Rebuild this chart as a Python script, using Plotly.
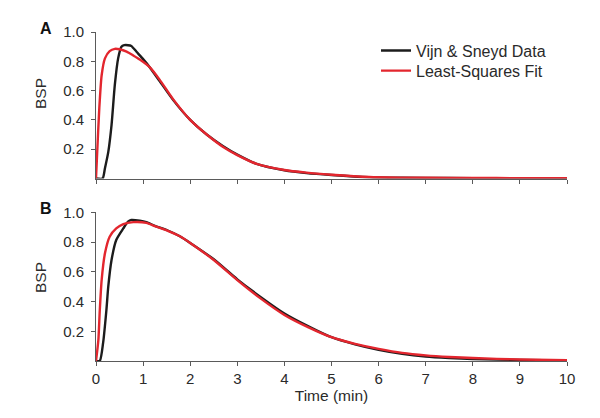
import plotly.graph_objects as go

# ---- Data ----
# Panel A
a_data_t = [0, 0.14, 0.19, 0.26, 0.33, 0.40, 0.47, 0.54, 0.60, 0.68, 0.75, 0.86, 1.0, 1.14,
            1.35, 1.64, 2.0, 2.35, 2.7, 3.0, 3.41, 4.0, 4.47, 5.0, 5.8, 6.5, 7.5, 8.5, 10]
a_data_y = [0, 0, 0.07, 0.18, 0.365, 0.64, 0.82, 0.90, 0.91, 0.91, 0.905, 0.865, 0.815, 0.76,
            0.665, 0.535, 0.40, 0.30, 0.22, 0.163, 0.10, 0.056, 0.037, 0.024, 0.009, 0.005, 0.003, 0.002, 0.001]
a_fit_t = [0, 0.02, 0.07, 0.12, 0.19, 0.29, 0.40, 0.50, 0.65, 0.79, 0.93, 1.14, 1.35, 1.64,
           2.0, 2.35, 2.7, 3.0, 3.41, 4.0, 4.47, 5.0, 5.8, 6.5, 7.5, 8.5, 10]
a_fit_y = [0, 0.14, 0.48, 0.705, 0.82, 0.87, 0.885, 0.882, 0.866, 0.84, 0.812, 0.76, 0.675, 0.54,
           0.40, 0.30, 0.215, 0.16, 0.10, 0.058, 0.04, 0.026, 0.01, 0.006, 0.004, 0.003, 0.002]

# Panel B
b_data_t = [0, 0.08, 0.15, 0.22, 0.26, 0.33, 0.43, 0.58, 0.68, 0.75, 0.93, 1.07, 1.25, 1.5,
            1.78, 2.0, 2.5, 3.0, 3.5, 4.0, 4.5, 5.0, 5.5, 6.0, 6.5, 7.0, 7.5, 8.0, 9.0, 10]
b_data_y = [0, 0, 0.12, 0.34, 0.50, 0.68, 0.815, 0.893, 0.938, 0.95, 0.945, 0.935, 0.91, 0.882,
            0.84, 0.795, 0.685, 0.55, 0.43, 0.32, 0.235, 0.16, 0.112, 0.075, 0.048, 0.03, 0.02, 0.013, 0.007, 0.004]
b_fit_t = [0, 0.05, 0.08, 0.12, 0.19, 0.29, 0.43, 0.58, 0.79, 1.07, 1.25, 1.5, 1.78, 2.0,
           2.5, 3.0, 3.5, 4.0, 4.5, 5.0, 5.5, 6.0, 6.5, 7.0, 7.5, 8.0, 9.0, 10]
b_fit_y = [0, 0.14, 0.34, 0.545, 0.725, 0.837, 0.893, 0.922, 0.935, 0.93, 0.908, 0.88, 0.84, 0.795,
           0.68, 0.545, 0.42, 0.31, 0.228, 0.16, 0.115, 0.082, 0.055, 0.038, 0.027, 0.02, 0.01, 0.005]

x_ticks = list(range(0, 11))
y_ticks = [0.2, 0.4, 0.6, 0.8, 1.0]
y_tick_text = ["0.2", "0.4", "0.6", "0.8", "1.0"]

BLACK = "#1c1c1c"
RED = "#e3262e"
AXIS = "#5a5a5a"
TXT = "#2a2a2a"
FONT = "Liberation Sans, Arial, sans-serif"

# page is offset by the browser's 8px body margin
L, R, T, B = 88, 41, 24, 65
W, H = 600, 418

fig = go.Figure()
line_kw = dict(width=2.4, shape="spline", smoothing=0.6)
fig.add_trace(go.Scatter(x=a_data_t, y=a_data_y, mode="lines", name="Vijn & Sneyd Data",
                         line=dict(color=BLACK, **line_kw), xaxis="x", yaxis="y", legend="legend"))
fig.add_trace(go.Scatter(x=a_fit_t, y=a_fit_y, mode="lines", name="Least-Squares Fit",
                         line=dict(color=RED, **line_kw), xaxis="x", yaxis="y", legend="legend2"))
fig.add_trace(go.Scatter(x=b_data_t, y=b_data_y, mode="lines", showlegend=False,
                         line=dict(color=BLACK, **line_kw), xaxis="x2", yaxis="y2"))
fig.add_trace(go.Scatter(x=b_fit_t, y=b_fit_y, mode="lines", showlegend=False,
                         line=dict(color=RED, **line_kw), xaxis="x2", yaxis="y2"))

xcommon = dict(range=[0, 10], tickvals=x_ticks, ticks="outside", ticklen=4, tickwidth=1,
               tickcolor=AXIS, showline=True, linecolor=AXIS, linewidth=1, showgrid=False,
               zeroline=False, domain=[0, 1], automargin=False,
               tickfont=dict(size=15, color=TXT, family=FONT))
ycommon = dict(range=[0, 1], tickvals=y_ticks, ticktext=y_tick_text, ticks="outside", ticklen=4,
               tickwidth=1, tickcolor=AXIS, showline=True, linecolor=AXIS, linewidth=1,
               showgrid=False, zeroline=False, automargin=False, ticklabelstandoff=4,
               tickfont=dict(size=15, color=TXT, family=FONT))

legend_kw = dict(xanchor="left", yanchor="top", bgcolor="rgba(0,0,0,0)",
                 font=dict(size=16, color=TXT, family=FONT), itemwidth=30)

fig.update_layout(
    width=W, height=H,
    margin=dict(l=L, r=R, t=T, b=B),
    paper_bgcolor="white", plot_bgcolor="white",
    font=dict(family=FONT, color=TXT, size=15),
    xaxis=dict(**xcommon, anchor="y", showticklabels=False),
    yaxis=dict(**ycommon, domain=[0.5547, 1.0], anchor="x"),
    xaxis2=dict(**xcommon, anchor="y2",
                title=dict(text="Time (min)", font=dict(size=15.5, color=TXT, family=FONT), standoff=4)),
    yaxis2=dict(**ycommon, domain=[0.0, 0.4514], anchor="x2"),
    legend=dict(x=0.5945, y=0.995, **legend_kw),
    legend2=dict(x=0.5945, y=0.934, **legend_kw),
    showlegend=True,
)

W_plot = W - L - R
H_plot = H - T - B
def px_to_paper(px, py):
    # px, py are page coordinates; subtract the 8px body offset
    fx, fy = px - 8, py - 8
    return (fx - L) / W_plot, (H - B - fy) / H_plot

ax, ay = px_to_paper(46, 28)
bx, by = px_to_paper(46, 209)
for txt, x, y in (("<b>A</b>", ax, ay), ("<b>B</b>", bx, by)):
    fig.add_annotation(text=txt, x=x, y=y, xref="paper", yref="paper", showarrow=False,
                       xanchor="center", yanchor="middle",
                       font=dict(size=16, color="#111111", family=FONT))

for py in (94, 278):
    x, y = px_to_paper(40, py)
    fig.add_annotation(text="BSP", x=x, y=y, xref="paper", yref="paper", showarrow=False,
                       xanchor="center", yanchor="middle", textangle=-90,
                       font=dict(size=15.5, color=TXT, family=FONT))

fig.write_html("out.html")
